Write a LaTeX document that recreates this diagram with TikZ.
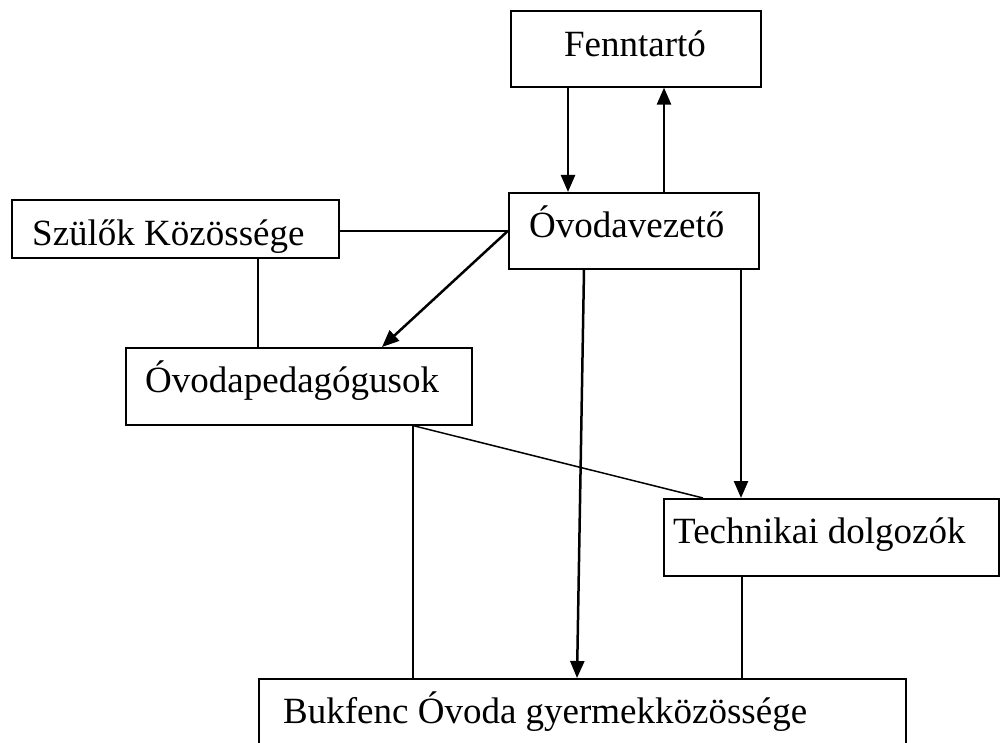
\documentclass[tikz,border=0pt]{standalone}
\usepackage{fontspec}
\setmainfont{Liberation Serif}
\usetikzlibrary{arrows.meta}
\begin{document}
\begin{tikzpicture}[x=1pt,y=-1pt,
  box/.style={draw, line width=1.6pt, inner sep=0pt, anchor=north west},
  lbl/.style={inner sep=0pt, font=\fontsize{37}{44}\selectfont},
  arr/.style={line width=2.5pt, -{Triangle[length=17pt,width=14pt]}},
  ln/.style={line width=1.5pt}]
\useasboundingbox (0,0) rectangle (1000,743);
\clip (0,0) rectangle (1000,743);
\fill[white] (0,0) rectangle (1000,743);
% boxes
\node[box, minimum width=250pt, minimum height=76pt] (fenn) at (510,10) {};
\node[box, minimum width=250pt, minimum height=76pt] (ovez) at (508,192) {};
\node[box, minimum width=327pt, minimum height=58pt] (szul) at (11,199) {};
\node[box, minimum width=346pt, minimum height=77pt] (opeda) at (125,347) {};
\node[box, minimum width=335pt, minimum height=77pt] (tech) at (663,498) {};
\node[box, minimum width=647pt, minimum height=100pt] (buk) at (258,678) {};
% texts
\node[lbl, anchor=base] (tfenn) at (635,57) {Fenntartó};
\node[lbl, anchor=base west] (tovez) at (529,237) {Óvodavezető};
\node[lbl, anchor=base west] (tszul) at (32,245) {Szülők Közössége};
\node[lbl, anchor=base west] (topeda) at (145,392) {Óvodapedagógusok};
\node[lbl, anchor=base west] (ttech) at (673,543) {Technikai dolgozók};
\node[lbl, anchor=base west] (tbuk) at (283,723) {Bukfenc Óvoda gyermekközössége};
% connectors
\draw[arr] ([xshift=58pt]fenn.south west) -- ([xshift=60pt]ovez.north west);
\draw[arr] ([xshift=156pt]ovez.north west) -- ([xshift=154pt]fenn.south west);
\draw[ln] (szul.east |- ovez.west) -- (ovez.west);
\draw[arr] (ovez.west) -- ([xshift=257pt]opeda.north west);
\draw[ln] ([xshift=247pt]szul.south west) -- ([xshift=133pt]opeda.north west);
\draw[ln] ([xshift=288pt]opeda.south west) -- ([xshift=155pt]buk.north west);
\draw[ln] ([xshift=288pt]opeda.south west) -- ([xshift=40pt]tech.north west);
\draw[arr] ([xshift=76pt]ovez.south west) -- ([xshift=319pt]buk.north west);
\draw[arr] ([xshift=233pt]ovez.south west) -- ([xshift=78pt]tech.north west);
\draw[ln] ([xshift=79pt]tech.south west) -- ([xshift=484pt]buk.north west);
\end{tikzpicture}
\end{document}
